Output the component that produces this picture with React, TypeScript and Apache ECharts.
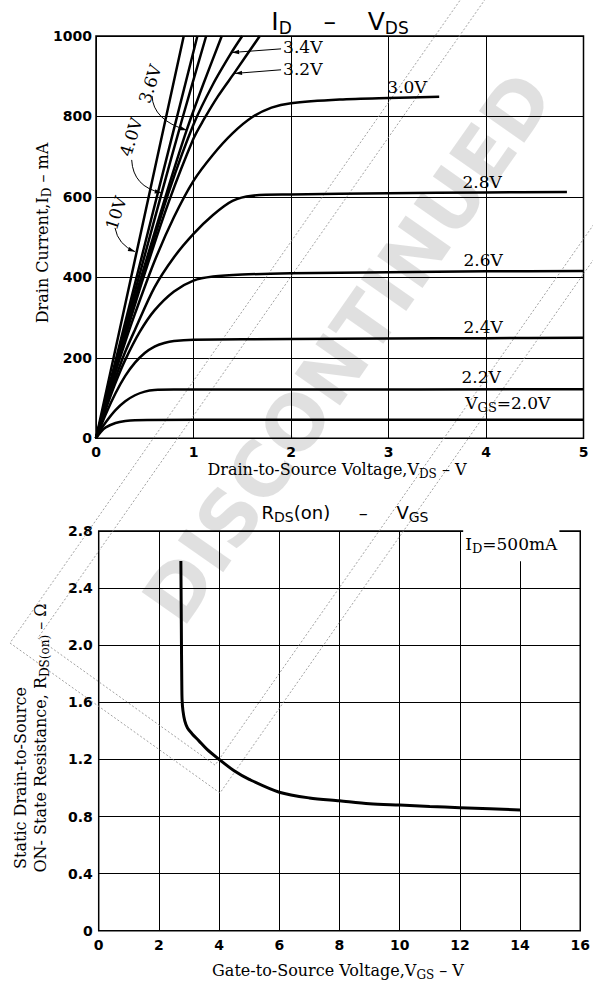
import React, { useEffect, useRef } from 'react';
import * as echarts from 'echarts';

// ---------- axis ticks ----------
const vdsTicks = [0, 1, 2, 3, 4, 5];
const idTicks = [0, 200, 400, 600, 800, 1000];
const vgsTicks = [0, 2, 4, 6, 8, 10, 12, 14, 16];
const rdsTicks = [0, 0.4, 0.8, 1.2, 1.6, 2.0, 2.4, 2.8];

// ---------- ID - VDS curves: [VDS (V), ID (mA)] ----------
const id10V = [[0, 0], [0.45, 500], [0.9, 1000]];
const idUnlabeled = [[0, 0], [0.5, 481], [1.04, 1000]];
const id4_0V = [[0, 0], [0.3, 275], [0.674, 610], [0.88, 790], [1.13, 1000]];
const id3_6V = [[0, 0], [0.3, 265], [0.5, 430], [0.75, 630], [0.93, 766], [1.1, 880], [1.29, 1000]];
const id3_4V = [[0, 0], [0.3, 258], [0.5, 420], [0.75, 615], [1.0, 780], [1.2, 880], [1.39, 959], [1.5, 1000]];
const id3_2V = [[0, 0], [0.3, 252], [0.5, 410], [0.75, 590], [1.0, 745], [1.1, 790], [1.25, 850], [1.43, 912], [1.68, 1000]];
const id3_0V = [[0, 0], [0.1, 85], [0.2, 165], [0.3, 240], [0.4, 310], [0.6, 440], [0.8, 550], [1.0, 640], [1.2, 705], [1.4, 758], [1.6, 798], [1.8, 822], [2.0, 833], [2.5, 842], [3.0, 846], [3.52, 849]];
const id2_8V = [[0, 0], [0.1, 78], [0.2, 150], [0.3, 215], [0.4, 270], [0.6, 375], [0.8, 450], [1.0, 508], [1.2, 555], [1.4, 590], [1.6, 603], [2.0, 606], [3.0, 609], [4.0, 611], [4.83, 612]];
const id2_6V = [[0, 0], [0.1, 72], [0.2, 138], [0.3, 195], [0.45, 265], [0.6, 318], [0.8, 365], [1.0, 392], [1.2, 402], [1.5, 407], [2, 410], [3, 413], [4, 415], [5, 416]];
const id2_4V = [[0, 0], [0.1, 60], [0.2, 112], [0.3, 155], [0.4, 188], [0.5, 212], [0.6, 228], [0.7, 237], [0.8, 242], [1.0, 245], [2, 247], [3, 248], [4, 249], [5, 250]];
const id2_2V = [[0, 0], [0.05, 22], [0.1, 40], [0.2, 70], [0.3, 92], [0.4, 107], [0.5, 116], [0.6, 120], [0.8, 121], [2, 121], [5, 122]];
const id2_0V = [[0, 0], [0.05, 16], [0.1, 27], [0.2, 38], [0.3, 43], [0.4, 45], [1, 46], [5, 46]];

const ivCurves = [id10V, idUnlabeled, id4_0V, id3_6V, id3_4V, id3_2V, id3_0V, id2_8V, id2_6V, id2_4V, id2_2V, id2_0V];
const ivNames = ['10V', 'VGS high', '4.0V', '3.6V', '3.4V', '3.2V', '3.0V', '2.8V', '2.6V', '2.4V', '2.2V', '2.0V'];

// ---------- RDS(on) - VGS curve: [VGS (V), RDS(on) (ohm)] ----------
const rdsOn = [[2.73, 2.59], [2.74, 2.3], [2.75, 2.0], [2.76, 1.75], [2.77, 1.62], [2.8, 1.54], [2.86, 1.47], [2.95, 1.42], [3.1, 1.38], [3.33, 1.33], [3.6, 1.27], [4, 1.2], [4.5, 1.12], [5, 1.06], [6, 0.97], [7, 0.93], [8, 0.91], [9, 0.89], [10, 0.88], [11, 0.87], [12, 0.862], [13, 0.854], [14, 0.846]];

const SERIF = 'DejaVu Serif';
const SANS = 'DejaVu Sans';

const richSerif = (size: number, sub: number) => ({
  n: { fontFamily: SERIF, fontSize: size, lineHeight: size + 6, fill: '#000' },
  s: { fontFamily: SERIF, fontSize: sub, lineHeight: sub - 2, verticalAlign: 'bottom', fill: '#000' },
});
const richSans = (size: number, sub: number) => ({
  n: { fontFamily: SANS, fontSize: size, lineHeight: size + 6, fill: '#000' },
  s: { fontFamily: SANS, fontSize: sub, lineHeight: sub - 2, verticalAlign: 'bottom', fill: '#000' },
});

const T = (x: number, y: number, text: string, rich: any, align = 'center', rotation = 0, extra: any = {}) => ({
  type: 'text', x, y, rotation, z: 20, silent: true,
  style: { text, rich, align, verticalAlign: 'middle', textAlign: align, textVerticalAlign: 'middle', fill: '#000', ...extra },
});

const arrowHead = (p: number[], from: number[]) => {
  const dx = p[0] - from[0], dy = p[1] - from[1];
  const L = Math.hypot(dx, dy) || 1;
  const ux = dx / L, uy = dy / L;
  const len = 7, w = 2.2;
  return {
    type: 'polygon', z: 20, silent: true,
    shape: { points: [[p[0], p[1]], [p[0] - ux * len - uy * w, p[1] - uy * len + ux * w], [p[0] - ux * len + uy * w, p[1] - uy * len - ux * w]] },
    style: { fill: '#000' },
  };
};

export default function App() {
  const ref = useRef<HTMLDivElement>(null);
  useEffect(() => {
    const chart = echarts.init(ref.current!, null, { renderer: 'svg' });
    const axisLabelStyle = { color: '#000', fontFamily: SANS, fontWeight: 'bold', fontSize: 14 };
    const splitLine = { show: true, lineStyle: { color: '#000', width: 1 } };
    const option: any = {
      animation: false,
      backgroundColor: '#fff',
      grid: [
        { left: 96, top: 36, width: 487.5, height: 402.3, show: true, borderColor: '#000', borderWidth: 1.5 },
        { left: 98.7, top: 531, width: 486.3, height: 399.7, show: true, borderColor: '#000', borderWidth: 1.5 },
      ],
      xAxis: [
        { type: 'value', gridIndex: 0, min: vdsTicks[0], max: vdsTicks[vdsTicks.length - 1], interval: vdsTicks[1] - vdsTicks[0],
          axisLine: { show: false }, axisTick: { show: false }, splitLine, axisLabel: { ...axisLabelStyle, margin: 7 } },
        { type: 'value', gridIndex: 1, min: vgsTicks[0], max: vgsTicks[vgsTicks.length - 1], interval: vgsTicks[1] - vgsTicks[0],
          axisLine: { show: false }, axisTick: { show: false }, splitLine, axisLabel: { ...axisLabelStyle, margin: 7 } },
      ],
      yAxis: [
        { type: 'value', gridIndex: 0, min: idTicks[0], max: idTicks[idTicks.length - 1], interval: idTicks[1] - idTicks[0],
          axisLine: { show: false }, axisTick: { show: false }, splitLine,
          axisLabel: { ...axisLabelStyle, margin: 4, formatter: (v: number) => String(v) } },
        { type: 'value', gridIndex: 1, min: rdsTicks[0], max: rdsTicks[rdsTicks.length - 1], interval: 0.4,
          axisLine: { show: false }, axisTick: { show: false }, splitLine,
          axisLabel: { ...axisLabelStyle, margin: 6, formatter: (v: number) => (v === 0 ? '0' : v.toFixed(1)) } },
      ],
      series: [
        ...ivCurves.map((d, i) => ({
          name: ivNames[i], type: 'line', xAxisIndex: 0, yAxisIndex: 0, data: d, showSymbol: false,
          smooth: 0.3, lineStyle: { color: '#000', width: 2.5 }, z: 3, silent: true,
        })),
        { name: 'RDS(on)', type: 'line', xAxisIndex: 1, yAxisIndex: 1, data: rdsOn, showSymbol: false,
          smooth: 0.3, lineStyle: { color: '#000', width: 3 }, z: 3, silent: true },
      ],
    };
    chart.setOption(option);

    const p0 = (x: number, y: number) => chart.convertToPixel({ gridIndex: 0 }, [x, y]) as number[];
    const p1 = (x: number, y: number) => chart.convertToPixel({ gridIndex: 1 }, [x, y]) as number[];

    const lbl = richSerif(17, 13);
    const g: any[] = [];

    // watermark
    const ang = (55 * Math.PI) / 180;
    const u = [Math.cos(ang), -Math.sin(ang)];
    const nrm = [Math.sin(ang), Math.cos(ang)];
    const A = [10, 643], B = [220, 793];
    const band = (a: number[], b: number[]) => ({
      type: 'polygon', z: 1, silent: true,
      shape: { points: [a, b, [b[0] + u[0] * 1100, b[1] + u[1] * 1100], [a[0] + u[0] * 1100, a[1] + u[1] * 1100]] },
      style: { fill: 'none', stroke: '#8a8a8a', lineWidth: 0.8, lineDash: [2, 2] },
    });
    g.push(band(A, B));
    g.push(band([A[0] + nrm[0] * 20 + u[0] * 20, A[1] + nrm[1] * 20 + u[1] * 20], [B[0] - nrm[0] * 20 + u[0] * 20, B[1] - nrm[1] * 20 + u[1] * 20]));
    g.push({
      type: 'text', x: 348, y: 348, rotation: ang, z: 1, silent: true,
      style: { text: 'DISCONTINUED', font: 'bold 76px DejaVu Sans', fill: 'rgba(0,0,0,0.12)', align: 'center', verticalAlign: 'middle', textAlign: 'center', textVerticalAlign: 'middle' },
    });

    // titles
    g.push(T(340, 21, '{n|I}{s|D}{n|    –    V}{s|DS}', richSans(25, 17)));
    g.push(T(345, 512, '{n|R}{s|DS}{n|(on)     –     V}{s|GS}', richSans(18, 14)));

    // axis names
    g.push(T(337, 469, '{n|Drain-to-Source Voltage,V}{s|DS}{n| – V}', richSerif(16, 12)));
    g.push(T(42, 233, '{n|Drain Current,I}{s|D}{n| – mA}', richSerif(16, 12), 'center', Math.PI / 2));
    g.push(T(338, 970, '{n|Gate-to-Source Voltage,V}{s|GS}{n| – V}', richSerif(16, 12)));
    g.push(T(20, 778, '{n|Static Drain-to-Source}', richSerif(16, 12), 'center', Math.PI / 2));
    g.push(T(40, 738, '{n|ON- State Resistance, R}{s|DS(on)}{n| – Ω}', richSerif(16, 12), 'center', Math.PI / 2));

    // curve labels (data coordinates of the top chart)
    const rot = (72 * Math.PI) / 180;
    const at0 = (x: number, y: number, text: string, align = 'center', rotation = 0) => {
      const p = p0(x, y);
      g.push(T(p[0], p[1], text, lbl, align, rotation));
    };
    at0(1.919, 973, '{n|3.4V}', 'left');
    at0(1.919, 918, '{n|3.2V}', 'left');
    at0(0.554, 881, '{n|3.6V}', 'center', rot);
    at0(0.359, 749, '{n|4.0V}', 'center', rot);
    at0(0.205, 560, '{n|10V}', 'center', rot);
    at0(3.19, 873, '{n|3.0V}');
    at0(3.96, 637, '{n|2.8V}');
    at0(3.97, 443, '{n|2.6V}');
    at0(3.97, 277, '{n|2.4V}');
    at0(3.95, 152, '{n|2.2V}');
    at0(3.787, 88, '{n|V}{s|GS}{n|=2.0V}', 'left');

    // leaders
    const straight = (s: number[], e: number[]) => {
      const a = p0(s[0], s[1]), b = p0(e[0], e[1]);
      g.push({ type: 'line', z: 20, silent: true, shape: { x1: a[0], y1: a[1], x2: b[0], y2: b[1] }, style: { stroke: '#000', lineWidth: 1 } });
      g.push(arrowHead(b, a));
    };
    const curved = (s: number[], c: number[], e: number[]) => {
      const a = p0(s[0], s[1]), cc = p0(c[0], c[1]), b = p0(e[0], e[1]);
      g.push({ type: 'bezierCurve', z: 20, silent: true, shape: { x1: a[0], y1: a[1], x2: b[0], y2: b[1], cpx1: cc[0], cpy1: cc[1] }, style: { stroke: '#000', lineWidth: 1, fill: 'none' } });
      g.push(arrowHead(b, cc));
    };
    straight([1.898, 968], [1.396, 959]);
    straight([1.898, 916], [1.426, 907]);
    curved([0.575, 851], [0.585, 791], [0.931, 766]);
    curved([0.366, 692], [0.380, 625], [0.674, 610]);
    curved([0.195, 523], [0.226, 481], [0.400, 464]);

    // bottom annotation
    const q = p1(12.11, 2.70);
    g.push(T(q[0], q[1], '{n|I}{s|D}{n|=500mA}', lbl, 'left', 0, { backgroundColor: '#fff', padding: [3, 2, 6, 2] }));

    chart.setOption({ graphic: g });
    return () => chart.dispose();
  }, []);
  return <div ref={ref} style={{ position: 'absolute', left: 0, top: 0, width: 593, height: 985, background: '#fff' }} />;
}
